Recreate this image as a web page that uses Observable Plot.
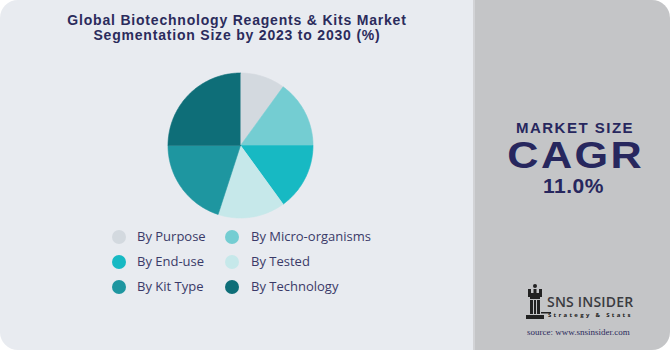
<!DOCTYPE html>
<html>
<head>
<meta charset="utf-8">
<script src="https://cdn.jsdelivr.net/npm/d3@7"></script>
<script src="https://cdn.jsdelivr.net/npm/@observablehq/plot@0.6"></script>
<style>
  html, body { margin: 0; padding: 0; background: #ffffff; }
  #wrap { position: relative; width: 670px; height: 350px; overflow: hidden; font-family: "Open Sans", sans-serif; }
  #left { position: absolute; left: 0; top: 0; width: 475px; height: 350px; background: #e8ebf0; border-radius: 18px 0 0 18px; }
  #right { position: absolute; left: 473px; top: 0; width: 195px; height: 350px; background: #c4c5c7; border-left: 2px solid #d2d3d6; border-radius: 0 18px 18px 0; }
  .tl { position: absolute; left: 0; width: 474px; text-align: center; font-family: "Liberation Sans", sans-serif; font-size: 14px; font-weight: 700; line-height: 15px; letter-spacing: 0.8px; color: #2b2b5c; white-space: nowrap; }
  #pie { position: absolute; left: 160px; top: 65px; }
  .lg { position: absolute; font-size: 13px; color: #3a3a68; line-height: 16px; white-space: nowrap; }
  .sw { position: absolute; width: 14px; height: 14px; border-radius: 50%; }
  .r { position: absolute; left: 475px; width: 197px; text-align: center; color: #27275e; font-family: "Liberation Sans", sans-serif; font-weight: 700; white-space: nowrap; }
</style>
</head>
<body>
<div id="wrap">
  <div id="left"></div>
  <div id="right"></div>
  <div class="tl" style="top:12.6px;">Global Biotechnology Reagents &amp; Kits Market</div>
  <div class="tl" style="top:27.6px;">Segmentation Size by 2023 to 2030 (%)</div>
  <div id="pie"></div>
  <div id="legend"></div>
  <div class="r" style="top:119.8px;font-size:15px;line-height:15px;letter-spacing:1.5px;padding-left:1.5px;">MARKET SIZE</div>
  <div class="r" style="top:138px;font-size:36px;line-height:36px;letter-spacing:2px;padding-left:2px;transform:scaleX(1.2);">CAGR</div>
  <div class="r" style="top:175.2px;font-size:21px;line-height:21px;letter-spacing:0.5px;">11.0%</div>
  <svg style="position:absolute;left:522px;top:283px;" width="30" height="40" viewBox="0 0 30 40">
    <circle cx="13" cy="3" r="2" fill="#222"/>
    <rect x="6" y="6" width="3" height="4" fill="#222"/>
    <rect x="11.5" y="6" width="3" height="4" fill="#222"/>
    <rect x="17" y="6" width="3" height="4" fill="#222"/>
    <rect x="6" y="10" width="14" height="4" fill="#222"/>
    <rect x="8" y="14" width="10" height="2" fill="#222"/>
    <rect x="8" y="17" width="3" height="14" fill="#222"/>
    <rect x="12" y="17" width="2" height="14" fill="#222"/>
    <rect x="15" y="17" width="3" height="14" fill="#222"/>
    <rect x="4" y="32" width="18" height="4" fill="#222"/>
    <rect x="19" y="29" width="10" height="1.5" fill="#222"/>
  </svg>
  <div style="position:absolute;left:547px;top:297px;font-size:14px;line-height:10px;font-weight:600;color:#3b3b40;letter-spacing:0.2px;white-space:nowrap;">SNS INSIDER</div>
  <div style="position:absolute;left:548px;top:312px;font-size:6px;line-height:6px;font-weight:700;color:#222;letter-spacing:2.3px;white-space:nowrap;">Strategy &amp; Stats</div>
  <div style="position:absolute;left:527px;top:327px;font-size:9px;line-height:10px;font-family:'Liberation Serif',serif;color:#2b2b5c;white-space:nowrap;">source: www.snsinsider.com</div>
</div>
<script>
const categories = ["By Purpose", "By Micro-organisms", "By End-use", "By Tested", "By Kit Type", "By Technology"];
const shares = [10, 15, 15, 15, 20, 25];
const palette = ["#d3d9df", "#74cdd2", "#17b9c3", "#c6e8ea", "#1e96a0", "#0e6e78"];
const legendOrder = [["By Purpose", "By Micro-organisms"], ["By End-use", "By Tested"], ["By Kit Type", "By Technology"]];

const arcs = d3.pie().sort(null)(shares);
const pts = [];
arcs.forEach((a, i) => {
  const cat = categories[i];
  pts.push({cat, x: 0, y: 0});
  const n = Math.max(2, Math.ceil((a.endAngle - a.startAngle) / (Math.PI / 180)));
  for (let k = 0; k <= n; k++) {
    const t = a.startAngle + (a.endAngle - a.startAngle) * k / n;
    pts.push({cat, x: Math.sin(t), y: Math.cos(t)});
  }
});
const half = 80 / 72.5;
const chart = Plot.plot({
  width: 160, height: 160,
  margin: 0,
  x: {domain: [-half, half], axis: null},
  y: {domain: [-half, half], axis: null},
  color: {domain: categories, range: palette},
  style: {background: "transparent"},
  marks: [
    Plot.line(pts, {x: "x", y: "y", z: "cat", fill: "cat", stroke: "cat", strokeWidth: 0.6})
  ]
});
document.getElementById("pie").appendChild(chart);

const lg = document.getElementById("legend");
const colX = [[112, 137], [225, 251]];
const rowY = [237, 262, 287];
legendOrder.forEach((row, r) => row.forEach((cat, c) => {
  const sw = document.createElement("div");
  sw.className = "sw";
  sw.style.left = colX[c][0] + "px";
  sw.style.top = (rowY[r] - 7) + "px";
  sw.style.background = palette[categories.indexOf(cat)];
  lg.appendChild(sw);
  const t = document.createElement("div");
  t.className = "lg";
  t.style.left = colX[c][1] + "px";
  t.style.top = (rowY[r] - 9) + "px";
  t.textContent = cat;
  lg.appendChild(t);
}));
</script>
</body>
</html>
